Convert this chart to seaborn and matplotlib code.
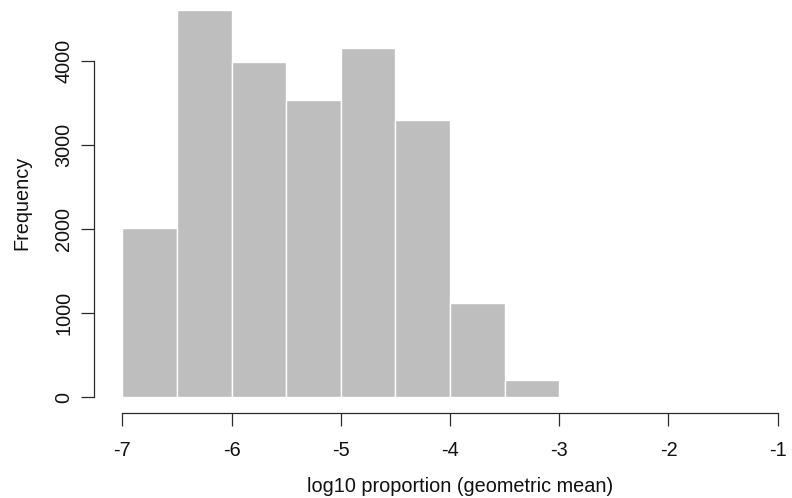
import numpy as np
import pandas as pd
import matplotlib
matplotlib.use("Agg")
import matplotlib.pyplot as plt
import seaborn as sns

# Histogram of log10 proportions, bins of width 0.5
bin_edges = [-7.0, -6.5, -6.0, -5.5, -5.0, -4.5, -4.0, -3.5, -3.0, -2.5]
counts = [2010, 4610, 3990, 3545, 4155, 3300, 1125, 205, 12]
x_ticks = [-7, -6, -5, -4, -3, -2, -1]
y_ticks = [0, 1000, 2000, 3000, 4000]

centers = [(a + b) / 2 for a, b in zip(bin_edges[:-1], bin_edges[1:])]
df = pd.DataFrame({"value": centers, "count": counts})

sns.set_style("white")
plt.rcParams["font.family"] = ["Liberation Sans", "DejaVu Sans"]

W, H = 792, 498
fig = plt.figure(figsize=(W / 100, H / 100), dpi=100)
ax_left, ax_bottom = 94.3, 413.0
ax = fig.add_axes([ax_left / W, (H - ax_bottom) / H, (W - ax_left) / W, ax_bottom / H])

sns.histplot(data=df, x="value", weights="count", bins=bin_edges,
             color="#bebebe", edgecolor="white", linewidth=1.0,
             alpha=1.0, ax=ax)

ax.set_xlim(-7.256, -0.869)
ax.set_ylim(-187, 4730)

axis_col = "#2a2a2a"
for side in ["top", "right"]:
    ax.spines[side].set_visible(False)
for side in ["left", "bottom"]:
    ax.spines[side].set_color(axis_col)
    ax.spines[side].set_linewidth(0.9)
ax.spines["left"].set_bounds(0, 4000)
ax.spines["bottom"].set_bounds(-7, -1)

ax.set_xticks(x_ticks)
ax.set_xticklabels([str(v) for v in x_ticks])
ax.set_yticks(y_ticks)
ax.set_yticklabels([str(v) for v in y_ticks], rotation=90, va="center")
ax.tick_params(axis="both", direction="out", length=9.2, width=0.9,
               color=axis_col, labelcolor="#111111", labelsize=14.3,
               bottom=True, left=True)
ax.tick_params(axis="x", pad=11)
ax.tick_params(axis="y", pad=6)

ax.set_xlabel("log10 proportion (geometric mean)", fontsize=14.3, color="#111111")
ax.set_ylabel("Frequency", fontsize=14.3, color="#111111")
ax.xaxis.set_label_coords((460 - ax_left) / (W - ax_left), 1 - (486 / ax_bottom))
ax.xaxis.label.set_va("center")
ax.yaxis.set_label_coords(-(ax_left - 22) / (W - ax_left), 1 - (203 / ax_bottom))
ax.yaxis.label.set_va("center")
ax.grid(False)

fig.savefig("out.png", dpi=100)
